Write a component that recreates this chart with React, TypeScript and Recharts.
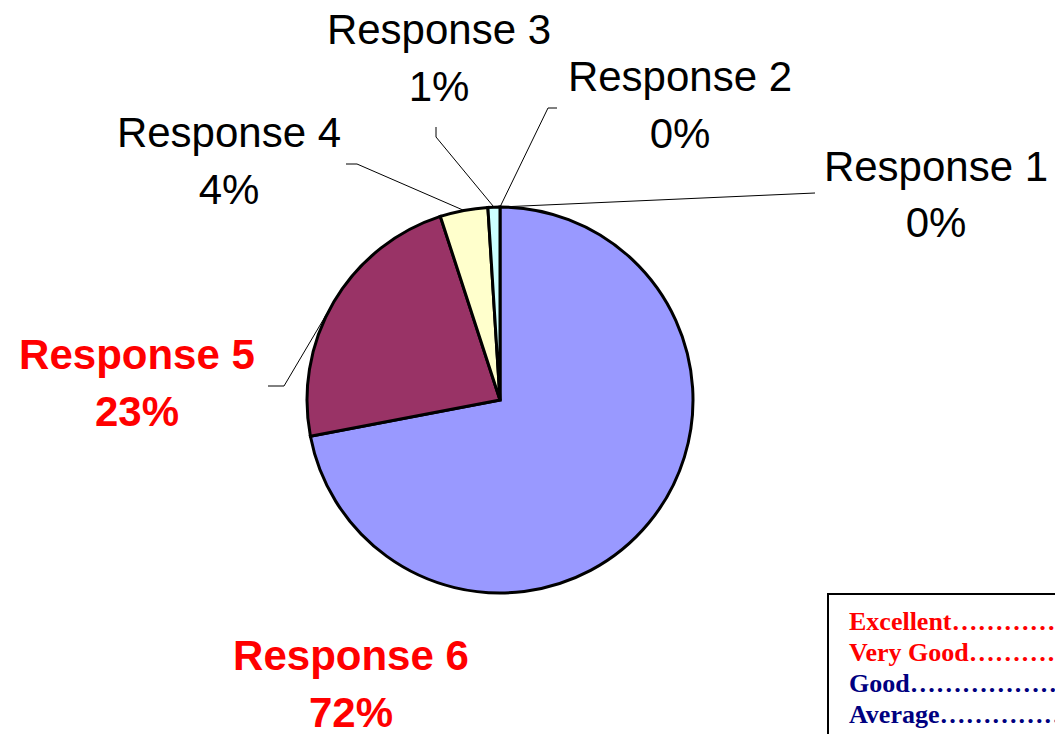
import React from 'react';
import { PieChart, Pie, Cell } from 'recharts';

// Survey responses, in the order the slices run clockwise from 12 o'clock
const RESPONSES = ['Response 6', 'Response 5', 'Response 4', 'Response 3', 'Response 2', 'Response 1'];
const PERCENTS = [72, 23, 4, 1, 0, 0];
const SLICE_COLORS = ['#9999FF', '#993366', '#FFFFCC', '#CCFFFF', '#660066', '#FF8080'];
const HIGHLIGHTED = [true, true, false, false, false, false];

// Rating key shown in the bottom-right box
const KEY_LABELS = ['Excellent', 'Very Good', 'Good', 'Average', 'Poor'];
const KEY_COLORS = ['#FF0000', '#FF0000', '#000080', '#000080', '#808080'];

const chartData = RESPONSES.map((name, i) => ({ name, value: PERCENTS[i] }));

const CX = 500;
const CY = 400;
const RAD = Math.PI / 180;

// Label placement relative to the pie centre: text centre x, two baselines,
// and an optional leader (elbow point, end point)
type LabelSpot = {
  tx: number;
  y1: number;
  y2: number;
  elbow?: [number, number];
  end?: [number, number];
};

const LABEL_SPOTS: LabelSpot[] = [
  { tx: -149, y1: 270, y2: 327 },
  { tx: -363, y1: -31, y2: 26, elbow: [-216, -14], end: [-232, -14] },
  { tx: -271, y1: -253, y2: -196, elbow: [-143, -236], end: [-154, -236] },
  { tx: -61, y1: -356, y2: -299, elbow: [-64, -263], end: [-64, -273] },
  { tx: 180, y1: -309, y2: -252, elbow: [48, -292], end: [57, -292] },
  { tx: 436, y1: -219, y2: -163, elbow: [315, -207], end: [315, -207] },
];

const renderLabel = (props: any) => {
  const { cx, cy, midAngle, outerRadius, index } = props;
  const spot = LABEL_SPOTS[index];
  if (!spot) return null;
  const bold = HIGHLIGHTED[index];
  const ax = cx + outerRadius * Math.cos(-midAngle * RAD);
  const ay = cy + outerRadius * Math.sin(-midAngle * RAD);
  let leader: React.ReactNode = null;
  if (spot.elbow && spot.end) {
    const pts = [
      [ax, ay],
      [cx + spot.elbow[0], cy + spot.elbow[1]],
      [cx + spot.end[0], cy + spot.end[1]],
    ]
      .map((p) => p.join(','))
      .join(' ');
    leader = <polyline points={pts} fill="none" stroke="#000" strokeWidth={1} />;
  }
  const textProps = {
    x: cx + spot.tx,
    textAnchor: 'middle' as const,
    fontFamily: '"Liberation Sans", Arial, sans-serif',
    fontSize: 42,
    fontWeight: bold ? 700 : 400,
    fill: bold ? '#FF0000' : '#000000',
  };
  return (
    <g key={`label-${index}`}>
      {leader}
      <text {...textProps} y={cy + spot.y1}>
        {RESPONSES[index]}
      </text>
      <text {...textProps} y={cy + spot.y2}>
        {`${PERCENTS[index]}%`}
      </text>
    </g>
  );
};

const DOTS = '\u2026'.repeat(20);

export default function App() {
  return (
    <div
      style={{
        position: 'absolute',
        left: 0,
        top: 0,
        width: 1055,
        height: 734,
        overflow: 'hidden',
        background: '#fff',
      }}
    >
      <PieChart width={1055} height={734} margin={{ top: 0, right: 0, bottom: 0, left: 0 }}>
        <Pie
          data={chartData}
          dataKey="value"
          nameKey="name"
          cx={CX}
          cy={CY}
          outerRadius={193}
          startAngle={90}
          endAngle={-270}
          stroke="#000"
          strokeWidth={3}
          labelLine={false}
          label={renderLabel}
          isAnimationActive={false}
        >
          {chartData.map((_, i) => (
            <Cell key={`cell-${i}`} fill={SLICE_COLORS[i]} />
          ))}
        </Pie>
      </PieChart>

      <div
        style={{
          position: 'absolute',
          left: 827,
          top: 593,
          width: 400,
          height: 220,
          border: '2px solid #000',
          padding: '11px 0 0 20px',
          boxSizing: 'border-box',
          fontFamily: '"Liberation Serif", "Times New Roman", serif',
          fontWeight: 700,
          fontSize: 26,
          lineHeight: '31px',
          whiteSpace: 'nowrap',
          background: '#fff',
        }}
      >
        {KEY_LABELS.map((label, i) => (
          <div key={label} style={{ color: KEY_COLORS[i] }}>
            {label}
            {DOTS}
          </div>
        ))}
      </div>
    </div>
  );
}
